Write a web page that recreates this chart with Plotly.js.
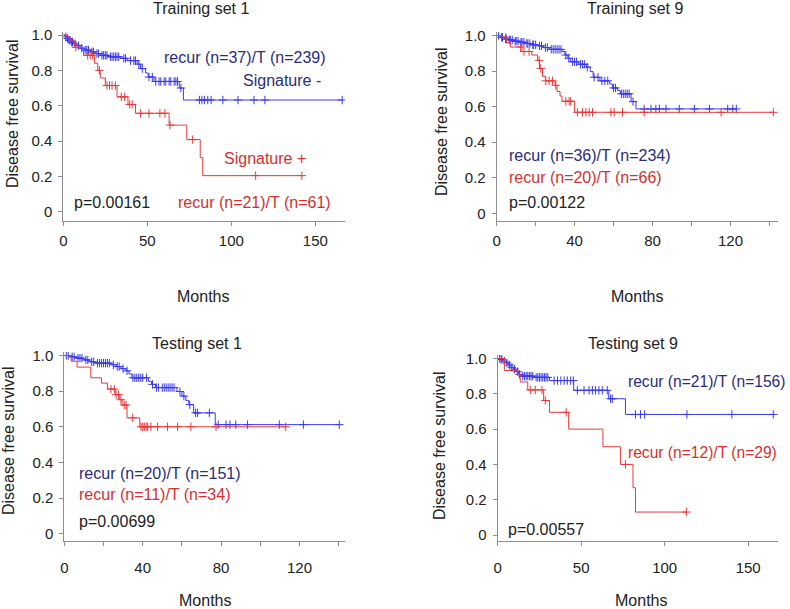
<!DOCTYPE html>
<html>
<head>
<meta charset="utf-8">
<script src="https://cdn.plot.ly/plotly-3.0.1.min.js"></script>
<style>
  html, body { margin: 0; padding: 0; background: #fff; }
  #chart { width: 790px; height: 609px; }
</style>
</head>
<body>
<div id="chart"></div>
<script>
// Training set 1
const tr1NegTimes = [1, 2, 3, 4.5, 6, 8, 10, 12, 16, 19, 22, 27, 34, 38, 44, 46, 49, 50.5, 54, 69, 71.5];
const tr1NegSurv  = [0.99, 0.98, 0.97, 0.96, 0.95, 0.94, 0.925, 0.915, 0.905, 0.895, 0.885, 0.877, 0.868, 0.855, 0.835, 0.81, 0.785, 0.762, 0.737, 0.70, 0.632];
const tr1NegCens  = [1.5, 2.5, 3.5, 4, 5, 5.5, 7, 9, 11, 13, 14, 15, 17, 18, 20, 21, 23, 24, 25, 26, 28, 29, 30, 31, 32, 33, 36, 37, 40, 42, 43, 45, 47, 51, 53, 55, 57, 58, 60, 61, 63, 64, 66, 67, 68, 70, 81, 82.5, 84, 86, 88, 95, 104, 113.5, 120, 166];
const tr1PosTimes = [2, 4, 6.5, 12, 18.5, 20.5, 22, 25, 32, 38.5, 43, 63, 73.5, 81.5, 83];
const tr1PosSurv  = [0.984, 0.967, 0.93, 0.885, 0.84, 0.80, 0.757, 0.714, 0.65, 0.607, 0.557, 0.49, 0.408, 0.306, 0.204];
const tr1PosCens  = [7.5, 14.5, 16, 17.5, 21.5, 26, 27.5, 29, 31, 34.5, 36.5, 39.5, 41, 46, 51, 57.5, 60.5, 63.5, 77, 114.5, 142];

// Training set 9
const tr9NegTimes = [2, 4, 6, 9, 12, 15, 18, 21, 24, 27, 33.5, 35, 36.5, 38, 42, 46, 48, 49.5, 53, 58, 59.5, 62, 63.5, 69, 71.5];
const tr9NegSurv  = [0.99, 0.98, 0.975, 0.968, 0.962, 0.955, 0.948, 0.942, 0.932, 0.922, 0.91, 0.89, 0.872, 0.852, 0.838, 0.822, 0.797, 0.765, 0.745, 0.727, 0.705, 0.69, 0.672, 0.628, 0.587];
const tr9NegCens  = [1, 2.5, 3, 4.5, 5, 6.5, 7, 8, 9.5, 10, 11, 12.5, 13, 14, 15.5, 16, 17, 18.5, 19, 20, 22, 23, 25, 26, 28, 29, 30, 31, 32, 33, 35.5, 37, 39, 40, 41, 43, 44, 45, 46.5, 50, 52, 54, 55.5, 57, 60, 61, 64, 65, 66, 67, 68, 70, 75.7, 79.2, 81.7, 83.5, 86.9, 93.7, 101.5, 109.2, 118.6, 121.2, 123];
const tr9PosTimes = [3, 5, 7, 13, 18, 21, 22, 23.5, 25, 30, 31, 32.5, 33.5, 40];
const tr9PosSurv  = [0.99, 0.96, 0.935, 0.91, 0.89, 0.86, 0.815, 0.77, 0.745, 0.72, 0.685, 0.66, 0.63, 0.568];
const tr9PosCens  = [4.6, 12.3, 14, 16.6, 21.8, 22.6, 25.2, 26.9, 28.6, 30.3, 35.5, 37.2, 38, 41.5, 44, 45.8, 47.5, 49.2, 58.6, 60.3, 64.6, 75.7, 115.2, 142];

// Testing set 1
const te1NegTimes = [3, 6, 10, 13, 16, 24, 26.5, 29, 31.5, 33, 34.5, 43, 44.5, 46.5, 57.5, 60, 62, 63.5, 66, 77];
const te1NegSurv  = [0.993, 0.985, 0.975, 0.965, 0.957, 0.948, 0.938, 0.926, 0.914, 0.896, 0.875, 0.855, 0.838, 0.82, 0.798, 0.772, 0.748, 0.724, 0.678, 0.612];
const te1NegCens  = [1, 2, 4, 5, 7, 8, 9, 11, 12, 14, 15, 17, 18, 19, 20, 21, 22, 23, 25, 27, 28, 30, 32, 35, 36, 37, 38, 39, 40, 42, 45, 47, 48, 50, 51, 52, 53, 54, 55, 56, 59, 61, 64, 67, 68, 74, 78.5, 82.5, 84.5, 87.5, 93.5, 109.7, 122, 140.3];
const te1PosTimes = [3.5, 6.5, 13.5, 19, 22, 26, 28, 29.5, 32, 38.5];
const te1PosSurv  = [0.968, 0.935, 0.875, 0.845, 0.812, 0.78, 0.752, 0.722, 0.65, 0.6];
const te1PosCens  = [23.8, 25.5, 26.4, 27.7, 28.9, 30.6, 31.5, 34.9, 39.1, 40, 40.8, 41.7, 42.5, 44.2, 47.6, 52.7, 57.8, 64.6, 77.4, 113];

// Testing set 9
const te9NegTimes = [1.5, 3, 5, 6.5, 8, 9.5, 11, 12.5, 14, 22, 31, 45.5, 66.5, 76.5];
const te9NegSurv  = [0.995, 0.985, 0.975, 0.963, 0.95, 0.94, 0.925, 0.91, 0.9, 0.893, 0.875, 0.82, 0.772, 0.683];
const te9NegCens  = [1, 2, 2.5, 4, 5.5, 7, 8.5, 10, 12, 13, 15, 16, 17, 18, 19, 20, 21, 23, 24, 25, 26, 27, 28, 29, 30, 33.8, 35.8, 37.8, 39.8, 41.7, 43.7, 45.3, 47.7, 51.7, 54.7, 56.7, 58.6, 60.6, 62.6, 65.6, 67.6, 68.6, 82.5, 85.5, 88, 113.3, 140.2, 165];
const te9PosTimes = [4, 12, 13.5, 18, 27.5, 31, 42.5, 63, 73.5, 81, 82.5];
const te9PosSurv  = [0.932, 0.91, 0.867, 0.822, 0.762, 0.695, 0.6, 0.5, 0.4, 0.268, 0.13];
const te9PosCens  = [19.5, 22.5, 26.5, 28.5, 41, 76.5, 113];

const panelTitles = ['Training set 1', 'Training set 9', 'Testing set 1', 'Testing set 9'];
const yTickVals = [0, 0.2, 0.4, 0.6, 0.8, 1.0];
const yTickText = ['0', '0.2', '0.4', '0.6', '0.8', '1.0'];
const xTicks50 = [0, 50, 100, 150];
const xText50 = ['0', '50', '100', '150'];
const xTicks20 = [0, 20, 40, 60, 80, 100, 120, 140];
const xText20 = ['0', '', '40', '', '80', '', '120', ''];

const W = 790, H = 609;
const FONT = 'Arial, "Liberation Sans", sans-serif';
const BLUE = '#3a3af0', RED = '#e8393a';
const NAVY = '#2b2b7c', RED_TXT = '#d6302e', INK = '#222';
const AXIS = '#8e8e8e';

function kmLine(times, surv, end) {
  const x = [0], y = [1];
  times.forEach((t, i) => { x.push(t); y.push(surv[i]); });
  x.push(end); y.push(surv[surv.length - 1]);
  return { x, y };
}

function survAt(times, surv, t) {
  let s = 1;
  for (let i = 0; i < times.length; i++) if (times[i] <= t) s = surv[i];
  return s;
}

// pixel boxes of each plot area: left, right, top, bottom, pixel of y=0, pixel of y=1, px per month
const boxes = [
  { l: 63.3, r: 345, t: 31.5, b: 220.5, y0: 211.7, y1: 35, ppm: 84 / 50 },
  { l: 496.7, r: 778, t: 32, b: 220.5, y0: 213.3, y1: 35.5, ppm: 38.96 / 20 },
  { l: 64.3, r: 345, t: 352, b: 541, y0: 533.7, y1: 355.5, ppm: 39.2 / 20 },
  { l: 497.7, r: 778, t: 355, b: 541, y0: 535, y1: 358.5, ppm: 83.5 / 50 }
];

const sets = [
  [tr1NegTimes, tr1NegSurv, tr1NegCens, tr1PosTimes, tr1PosSurv, tr1PosCens],
  [tr9NegTimes, tr9NegSurv, tr9NegCens, tr9PosTimes, tr9PosSurv, tr9PosCens],
  [te1NegTimes, te1NegSurv, te1NegCens, te1PosTimes, te1PosSurv, te1PosCens],
  [te9NegTimes, te9NegSurv, te9NegCens, te9PosTimes, te9PosSurv, te9PosCens]
];

const data = [];
const layout = {
  width: W, height: H,
  margin: { l: 0, r: 0, t: 0, b: 0 },
  paper_bgcolor: '#fff', plot_bgcolor: '#fff',
  showlegend: false,
  font: { family: FONT, color: INK, size: 15 },
  annotations: []
};

sets.forEach((s, i) => {
  const k = i === 0 ? '' : String(i + 1);
  const xa = 'x' + k, ya = 'y' + k;
  const bx = boxes[i];
  const groups = [[s[0], s[1], s[2], BLUE], [s[3], s[4], s[5], RED]];
  groups.forEach(([times, surv, cens, col]) => {
    const ln = kmLine(times, surv, cens[cens.length - 1]);
    data.push({
      x: ln.x, y: ln.y, xaxis: xa, yaxis: ya, type: 'scatter', mode: 'lines',
      line: { color: col, width: 1, shape: 'hv' }, hoverinfo: 'skip'
    });
    data.push({
      x: cens, y: cens.map(t => survAt(times, surv, t)), xaxis: xa, yaxis: ya,
      type: 'scatter', mode: 'markers',
      marker: { symbol: 'cross-thin', size: 6, color: col, line: { color: col, width: 1 } },
      hoverinfo: 'skip'
    });
  });

  const ppu = bx.y0 - bx.y1;
  const fifty = (i === 0 || i === 3);
  const top = i < 2;
  layout['xaxis' + k] = {
    domain: [bx.l / W, bx.r / W], anchor: ya,
    range: [0, (bx.r - bx.l) / bx.ppm],
    showline: true, linecolor: AXIS, linewidth: 1,
    ticks: 'outside', ticklen: 4, tickcolor: AXIS, tickwidth: 1,
    tickvals: fifty ? xTicks50 : xTicks20, ticktext: fifty ? xText50 : xText20,
    ticklabelstandoff: top ? 2 : 9,
    showgrid: false, zeroline: false, fixedrange: true,
    tickfont: { size: 15, color: INK, family: FONT }
  };
  layout['yaxis' + k] = {
    domain: [1 - bx.b / H, 1 - bx.t / H], anchor: xa,
    range: [-(bx.b - bx.y0) / ppu, 1 + (bx.y1 - bx.t) / ppu],
    showline: true, linecolor: AXIS, linewidth: 1,
    ticks: 'outside', ticklen: 4, tickcolor: AXIS, tickwidth: 1,
    tickvals: yTickVals, ticktext: yTickText, ticklabelstandoff: 3,
    showgrid: false, zeroline: false, fixedrange: true,
    tickfont: { size: 15, color: INK, family: FONT }
  };
});

function note(text, px, py, color, opts, size) {
  layout.annotations.push(Object.assign({
    text: text, xref: 'paper', yref: 'paper', x: px / W, y: 1 - py / H,
    xanchor: 'left', yanchor: 'middle', showarrow: false, borderpad: 0,
    font: { family: FONT, size: size || 16, color: color }
  }, opts || {}));
}

// panel titles, axis titles
const titlePos = [[201, 9], [635, 9], [197, 343], [633, 343]];
const yTitlePos = [[12, 114], [442, 122], [8, 441], [439, 445]];
const monthsPos = [[203, 296], [637, 296], [205, 600], [641, 600]];
panelTitles.forEach((t, i) => {
  note(t, titlePos[i][0], titlePos[i][1], INK, { xanchor: 'center' });
  note('Disease free survival', yTitlePos[i][0], yTitlePos[i][1], INK, { xanchor: 'center', textangle: -90 });
  note('Months', monthsPos[i][0], monthsPos[i][1], INK, { xanchor: 'center' });
});

// in-plot labels
note('recur (n=37)/T (n=239)', 163, 57, NAVY);
note('Signature -', 242, 80, NAVY);
note('Signature +', 223, 158, RED_TXT);
note('recur (n=21)/T (n=61)', 177, 203, RED_TXT);
note('p=0.00161', 73, 203, INK);

note('recur (n=36)/T (n=234)', 508, 155, NAVY);
note('recur (n=20)/T (n=66)', 508, 177, RED_TXT);
note('p=0.00122', 508, 202, INK);

note('recur (n=20)/T (n=151)', 78, 473, NAVY);
note('recur (n=11)/T (n=34)', 78, 494, RED_TXT);
note('p=0.00699', 78, 521, INK);

note('recur (n=21)/T (n=156)', 627, 381, NAVY, null, 15.6);
note('recur (n=12)/T (n=29)', 627, 452, RED_TXT, null, 15.6);
note('p=0.00557', 507, 529, INK);

Plotly.newPlot('chart', data, layout, { displayModeBar: false, staticPlot: true });
</script>
</body>
</html>
